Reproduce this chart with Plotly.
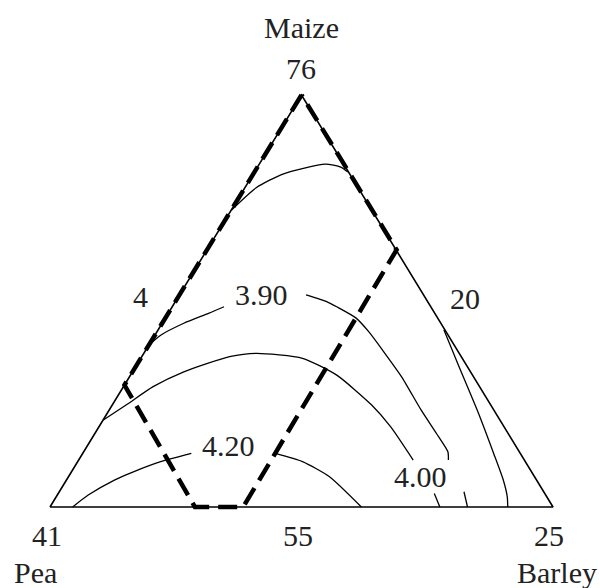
import plotly.graph_objects as go

# triangle corners (x along base 0-100, y height 0-100)
tri_x = [0, 100, 50, 0]
tri_y = [0, 0, 100, 0]

# contour lines
top_x = [36.1, 41.0, 46.3, 54.7, 57.8, 59.2]
top_y = [72.1, 77.5, 80.8, 83.2, 82.5, 81.3]

c390a_x = [19.3, 22.0, 26.6, 31.5, 34.6]
c390a_y = [38.9, 41.7, 44.6, 47.0, 48.6]
c390b_x = [50.9, 55.1, 57.0, 60.8, 63.4, 66.1, 69.9, 73.8, 76.8, 79.1, 79.2]
c390b_y = [51.5, 49.8, 48.6, 45.9, 42.5, 38.1, 31.6, 23.5, 17.9, 13.4, 11.4]
c390c_x = [82.3, 83.0]
c390c_y = [3.7, 0]

mid_x = [10.6, 15.2, 20.5, 26.6, 35.7, 41.0, 50.2, 57.0, 63.9, 67.7, 72.2]
mid_y = [21.1, 24.8, 29.2, 32.8, 36.5, 37.3, 36.1, 32.0, 24.8, 19.5, 11.4]
mid2_x = [76.4, 77.5]
mid2_y = [3.3, 0]

right_x = [78.3, 81.3, 85.2, 88.2, 90.1, 90.9, 91.0]
right_y = [43.0, 34.1, 22.7, 13.0, 6.6, 2.5, 0]

c420a_x = [4.5, 7.6, 12.9, 16.7, 22.0, 28.1]
c420a_y = [0, 2.9, 6.6, 8.6, 11.0, 13.0]
c420b_x = [44.8, 50.2, 55.5, 61.9]
c420b_y = [13.0, 11.0, 7.4, 0]

# dashed region
reg_x = [50, 14.8, 28.8, 38.4, 68.9, 50]
reg_y = [100, 29.6, 0, 0, 62.4, 100]

labels = ["Maize", "76", "4", "20", "41", "55", "25", "Pea", "Barley", "3.90", "4.20", "4.00"]
lab_x = [49.9, 49.9, 17.9, 82.5, -0.6, 49.4, 99.2, -2.8, 100.8, 42.1, 35.5, 73.6]
lab_y = [116.3, 106.5, 51.0, 50.7, -6.8, -6.8, -6.8, -16.0, -16.0, 51.5, 14.9, 7.4]

fig = go.Figure()

fig.add_trace(go.Scatter(x=tri_x, y=tri_y, mode="lines",
                         line=dict(color="black", width=1.6)))

curves = [(top_x, top_y), (c390a_x, c390a_y), (c390b_x, c390b_y), (c390c_x, c390c_y),
          (mid_x, mid_y), (mid2_x, mid2_y), (right_x, right_y),
          (c420a_x, c420a_y), (c420b_x, c420b_y)]
for cx, cy in curves:
    fig.add_trace(go.Scatter(x=cx, y=cy, mode="lines",
                             line=dict(color="black", width=1.3, shape="spline", smoothing=0.6)))

fig.add_trace(go.Scatter(x=reg_x, y=reg_y, mode="lines",
                         line=dict(color="black", width=4.5, dash="19px,9px")))

for t, lx, ly in zip(labels, lab_x, lab_y):
    fig.add_annotation(x=lx, y=ly, text=t, showarrow=False,
                       font=dict(family="Liberation Serif", size=30, color="#222"))

fig.update_xaxes(range=[-9.94, 109.34], visible=False)
fig.update_yaxes(range=[-19.66, 123.05], visible=False)
fig.update_layout(width=600, height=588, margin=dict(l=0, r=0, t=0, b=0),
                  showlegend=False, plot_bgcolor="white", paper_bgcolor="white")

# page body has a default margin, drop it so the figure sits at 0,0
fig.write_html("out.html", config={"displayModeBar": False},
               post_script="document.body.style.margin='0';")
